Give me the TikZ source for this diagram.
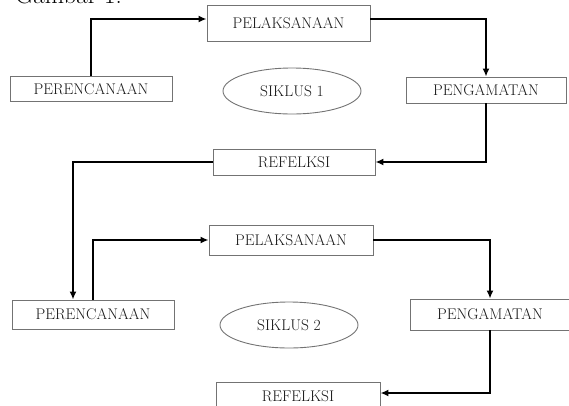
\documentclass[tikz,border=0pt]{standalone}
\usetikzlibrary{positioning, arrows.meta, shapes.geometric}

\tikzset{
    stage/.style={draw=black!55, line width=0.9pt, rectangle, inner sep=0pt,
        font=\fontsize{15.5}{18}\selectfont, text=black!90},
    cyclelabel/.style={draw=black!55, line width=0.9pt, ellipse, inner sep=0pt,
        minimum width=138pt, minimum height=46pt,
        font=\fontsize{15.5}{18}\selectfont, text=black!90},
    flow/.style={line width=1.7pt, -{Latex[length=8pt, width=7pt]}}
}

\begin{document}
\begin{tikzpicture}[x=1pt, y=-1pt]

    % Page frame
    \useasboundingbox (0,0) rectangle (569,405);
    \clip (0,0) rectangle (569,405);

    % Caption, cut at the top
    \node[anchor=base west, inner sep=0pt, font=\fontsize{25}{28}\selectfont] (caption) at (15,3) {Gambar 1.};

    % Cycle 1
    \node[stage, minimum width=162pt, minimum height=25pt] (per1) at (91,89) {PERENCANAAN};
    \node[stage, minimum width=163pt, minimum height=36pt] (pel1) at (288.5,23) {PELAKSANAAN};
    \node[stage, minimum width=160pt, minimum height=26pt] (pen1) at (486,90) {PENGAMATAN};
    \node[stage, minimum width=162pt, minimum height=26pt] (ref1) at (294,162) {REFELKSI};
    \node[cyclelabel] (sik1) at (292,91) {SIKLUS 1};

    % Cycle 2
    \node[stage, minimum width=162pt, minimum height=29pt] (per2) at (93,314.5) {PERENCANAAN};
    \node[stage, minimum width=164pt, minimum height=30pt] (pel2) at (291,240) {PELAKSANAAN};
    \node[stage, minimum width=160pt, minimum height=31pt] (pen2) at (490,314.5) {PENGAMATAN};
    \node[stage, minimum width=164pt, minimum height=28pt] (ref2) at (298,396) {REFELKSI};
    \node[cyclelabel] (sik2) at (289,325) {SIKLUS 2};

    % Arrows of cycle 1
    \draw[flow] (per1.north) |- ([yshift=4pt]pel1.west);
    \draw[flow] ([yshift=4pt]pel1.east) -| (pen1.north);
    \draw[flow] (pen1.south) |- (ref1.east);

    % From cycle 1 into cycle 2
    \draw[flow] (ref1.west) -| ([xshift=-20pt]per2.north);

    % Arrows of cycle 2
    \draw[flow] (per2.north) |- (pel2.west);
    \draw[flow] (pel2.east) -| (pen2.north);
    \draw[flow] (pen2.south) |- ([yshift=3pt]ref2.east);

\end{tikzpicture}
\end{document}
